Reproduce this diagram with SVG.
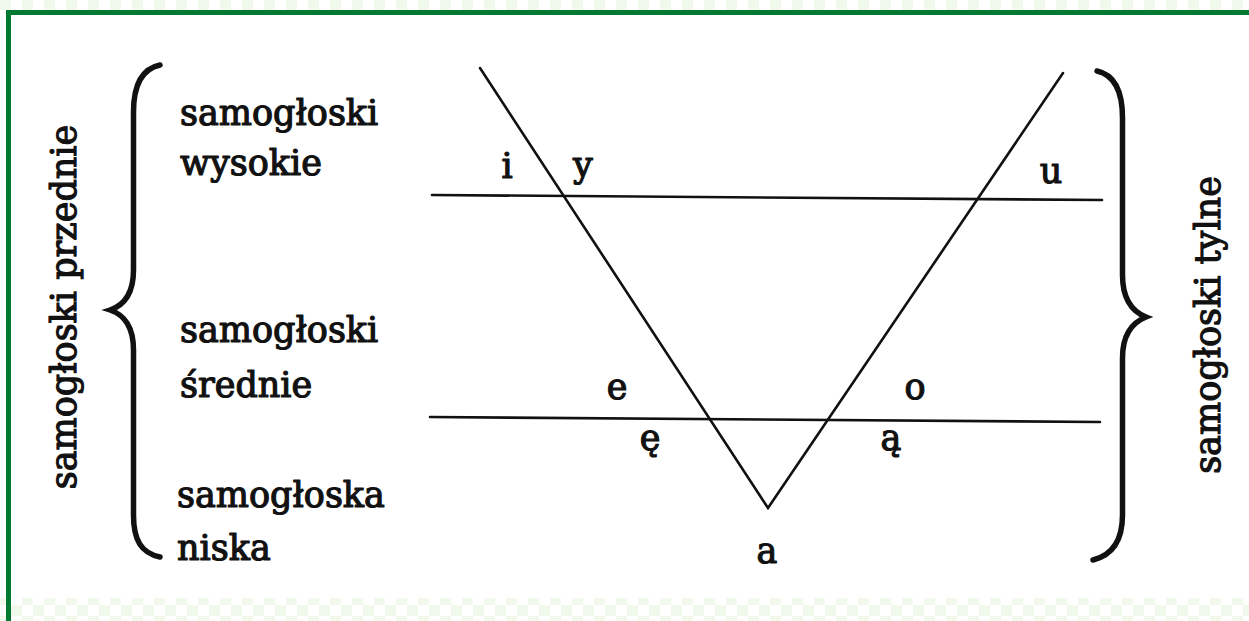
<svg xmlns="http://www.w3.org/2000/svg" width="1249" height="621" viewBox="0 0 1249 621">
<defs>
<pattern id="chk" width="22" height="22" patternUnits="userSpaceOnUse">
<rect width="22" height="22" fill="#ffffff"/>
<rect width="11" height="11" fill="#f1f9ec"/>
<rect x="11" y="11" width="11" height="11" fill="#f1f9ec"/>
</pattern>
<style>
.t{font-family:"DejaVu Serif","Liberation Serif",serif;font-weight:normal;font-size:35px;fill:#111;stroke:#111;stroke-width:1.2;stroke-linejoin:round}
.ln{stroke:#111;stroke-width:2.6;fill:none;stroke-linecap:round}
.br{stroke:#111;stroke-width:5.5;fill:none;stroke-linecap:round;stroke-linejoin:miter}
</style>
</defs>
<rect width="1249" height="621" fill="#ffffff"/>
<rect x="0" y="0" width="1249" height="10" fill="url(#chk)"/>
<rect x="0" y="598" width="1249" height="23" fill="url(#chk)"/>
<g id="frame">
<rect x="6" y="10" width="1243" height="5" fill="#007a33"/>
<rect x="6" y="10" width="5" height="611" fill="#007a33"/>
</g>
<g id="connectors">
<path class="ln" d="M480,68 L768,508 L1063,73"/>
<path class="ln" d="M432,195 L1102,200"/>
<path class="ln" d="M430,417 L1100,422"/>
</g>
<g id="brace-left">
<path class="br" d="M160,65 C141,69 133.5,86 133.5,112 L133.5,270 C133.5,293 125,305 110,310 C125,315 133.5,327 133.5,350 L133.5,515 C133.5,540 141,553 160,557"/>
</g>
<g id="brace-right">
<path class="br" d="M1097,71 C1115,75 1122.5,92 1122.5,118 L1122.5,275 C1122.5,298 1131,311 1146,317 C1131,323 1122.5,336 1122.5,358 L1122.5,515 C1122.5,540 1113,555 1093,560"/>
</g>
<g id="label-przednie">
<text class="t" transform="translate(76,307) rotate(-90)" text-anchor="middle">samogłoski przednie</text>
</g>
<g id="label-tylne">
<text class="t" transform="translate(1220,325) rotate(-90)" text-anchor="middle">samogłoski tylne</text>
</g>
<g id="label-wysokie">
<text class="t" x="180" y="125">samogłoski</text>
<text class="t" x="180" y="175">wysokie</text>
</g>
<g id="label-srednie">
<text class="t" x="180" y="342">samogłoski</text>
<text class="t" x="180" y="397">średnie</text>
</g>
<g id="label-niska">
<text class="t" x="177" y="507">samogłoska</text>
<text class="t" x="177" y="560">niska</text>
</g>
<g id="vowels">
<text class="t" x="507" y="178" text-anchor="middle">i</text>
<text class="t" x="583" y="177" text-anchor="middle">y</text>
<text class="t" x="1051" y="183" text-anchor="middle">u</text>
<text class="t" x="617" y="399" text-anchor="middle">e</text>
<text class="t" x="915" y="399" text-anchor="middle">o</text>
<text class="t" x="650" y="450" text-anchor="middle">ę</text>
<text class="t" x="891" y="450" text-anchor="middle">ą</text>
<text class="t" x="767" y="563" text-anchor="middle">a</text>
</g>
</svg>
